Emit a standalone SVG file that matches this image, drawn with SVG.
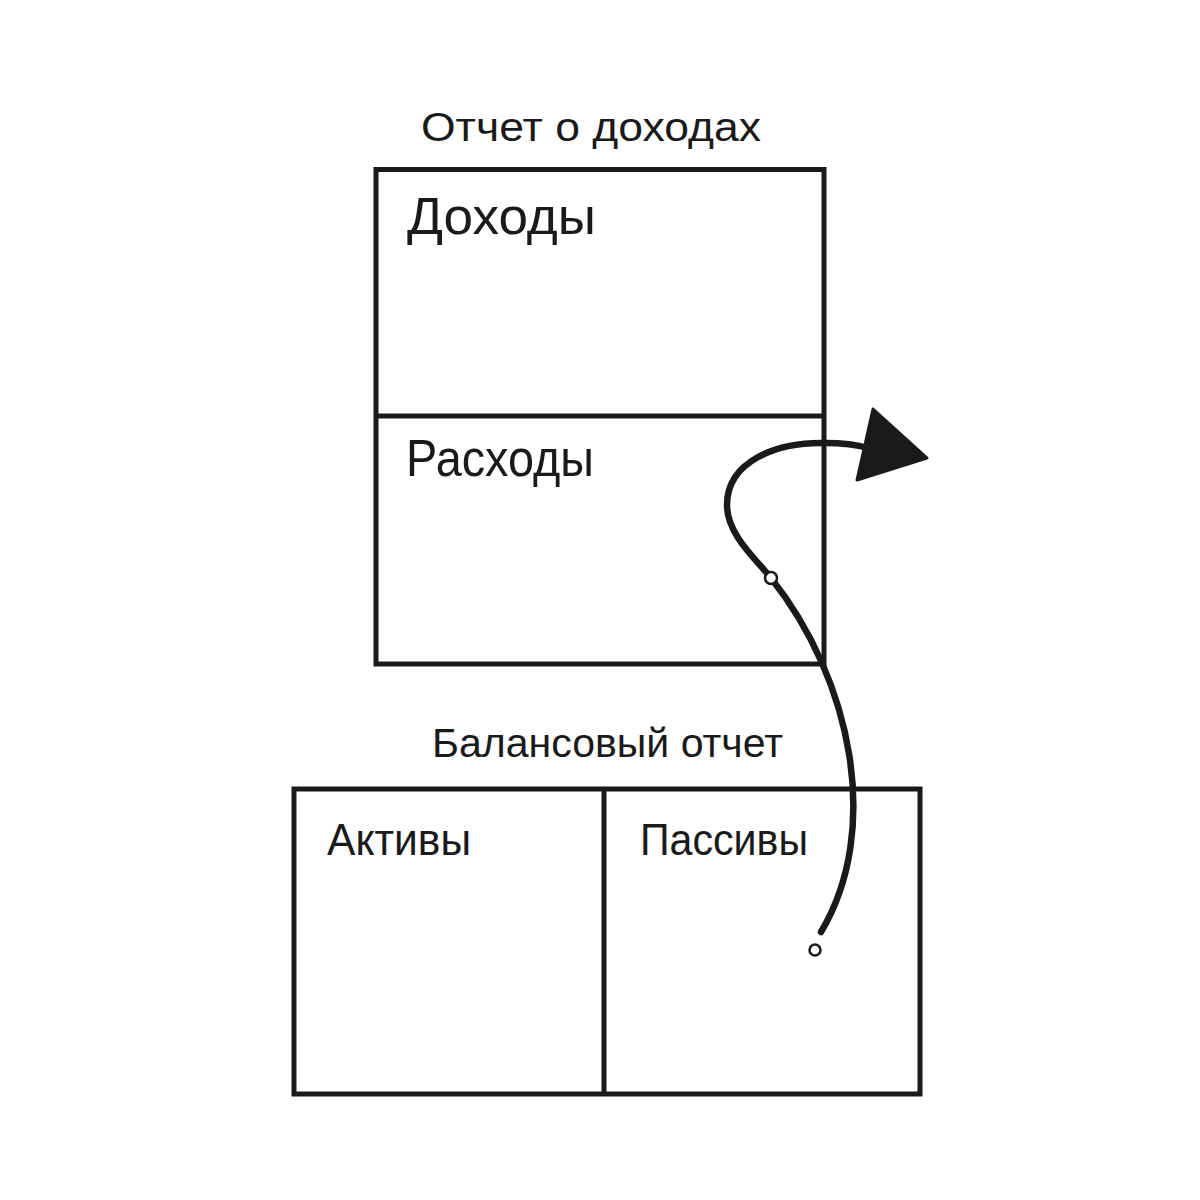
<svg xmlns="http://www.w3.org/2000/svg" width="1200" height="1200" viewBox="0 0 1200 1200">
<style>
.box{fill:none;stroke:#1a1a1a;stroke-width:5;stroke-linejoin:miter}
.t{font-family:"Liberation Sans",Arial,sans-serif;fill:#1a1a1a}
.conn{fill:none;stroke:#1a1a1a;stroke-width:6.5;stroke-linecap:round}
.dot{fill:#fff;stroke:#1a1a1a;stroke-width:2.5}
</style>
<rect width="1200" height="1200" fill="#fff"/>
<g id="income-statement">
<text class="t" x="421" y="141" font-size="40" textLength="340" lengthAdjust="spacingAndGlyphs">Отчет о доходах</text>
<rect class="box" x="376" y="169.5" width="448" height="494.5"/>
<line class="box" x1="376" y1="416" x2="824" y2="416"/>
<text class="t" x="407" y="234" font-size="52" textLength="189" lengthAdjust="spacingAndGlyphs">Доходы</text>
<text class="t" x="406" y="476" font-size="52" textLength="188" lengthAdjust="spacingAndGlyphs">Расходы</text>
</g>
<g id="balance-sheet">
<text class="t" x="432" y="757" font-size="40" textLength="351" lengthAdjust="spacingAndGlyphs">Балансовый отчет</text>
<rect class="box" x="294" y="789" width="626" height="305"/>
<line class="box" x1="604" y1="789" x2="604" y2="1094"/>
<text class="t" x="327" y="855" font-size="44" textLength="144" lengthAdjust="spacingAndGlyphs">Активы</text>
<text class="t" x="640" y="855" font-size="44" textLength="168" lengthAdjust="spacingAndGlyphs">Пассивы</text>
</g>
<g id="connectors">
<path class="conn" d="M 821 932 C 882 830, 852 680, 771 578 C 757 560, 727 535, 727 505 C 727 462, 775 442, 825 443 C 845 443, 858 445, 868 448"/>
<polygon points="873,409 927,458 857,480" fill="#1a1a1a" stroke="#1a1a1a" stroke-width="3" stroke-linejoin="round"/>
<circle class="dot" cx="771" cy="578" r="6"/>
<circle class="dot" cx="815" cy="950" r="5.5"/>
</g>
</svg>
